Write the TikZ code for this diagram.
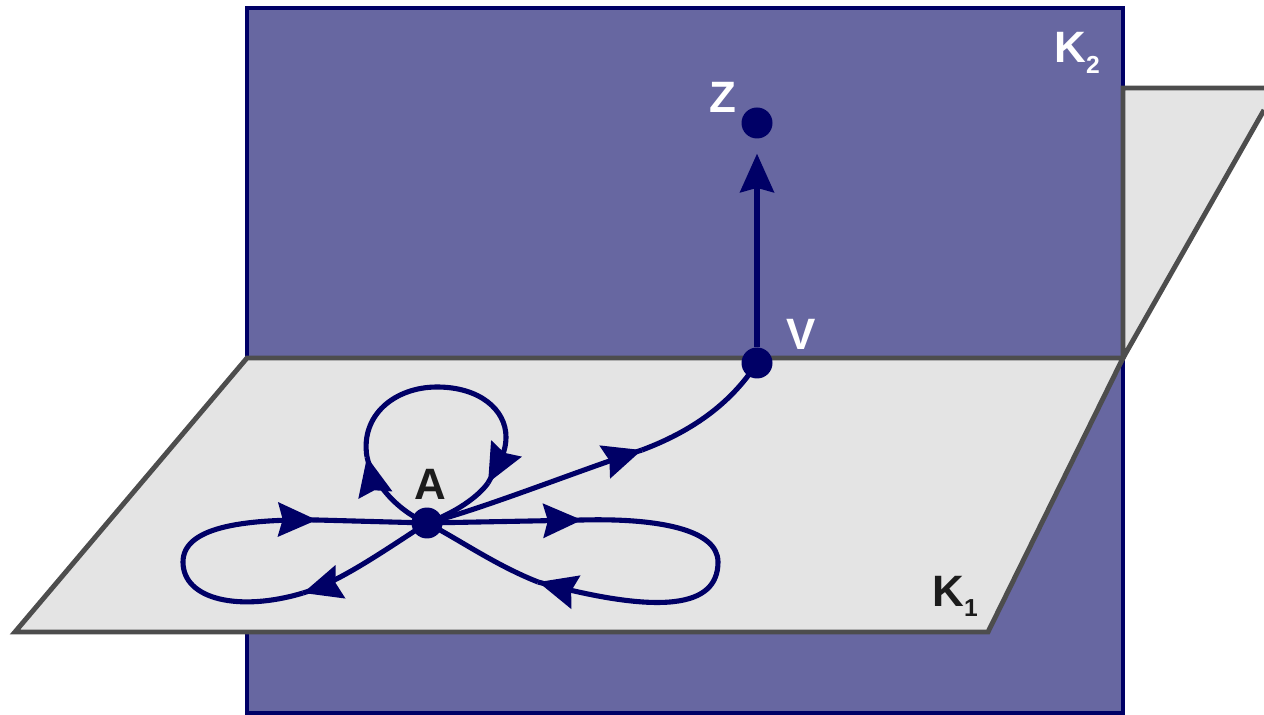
\documentclass[tikz,border=0pt]{standalone}
\usepackage{fontspec}
\setmainfont{Liberation Sans}
\usetikzlibrary{arrows.meta,decorations.markings}
\definecolor{PlaneBlue}{RGB}{103,103,161}
\definecolor{DeepNavy}{RGB}{0,0,102}
\definecolor{PlaneGray}{RGB}{228,228,228}
\definecolor{EdgeGray}{RGB}{77,77,77}
\definecolor{InkDark}{RGB}{28,28,28}
\newcommand{\lowidx}[1]{\raisebox{-6pt}{\fontsize{14}{14}\selectfont #1}}

\begin{document}
\begin{tikzpicture}[x=0.02cm,y=-0.02cm,font=\fontsize{25}{30}\selectfont\bfseries,
  >={Stealth[length=0.78cm,width=0.7cm,inset=0.1cm,line width=0pt]},
  flow/.style={DeepNavy,line width=2.9pt},
  tipend/.style={postaction={decorate},decoration={markings,mark=at position 0.999 with {\arrow{>}}}},
  edge/.style={EdgeGray,line width=2.8pt},
  dot/.style={circle,fill=DeepNavy,inner sep=0pt,minimum size=0.62cm}]
\useasboundingbox (0,0) rectangle (1264,715);
\filldraw[fill=PlaneBlue,draw=DeepNavy,line width=2.8pt] (247,8) rectangle (1123,713);
\fill[PlaneGray] (1123,88) -- (1264,88) -- (1264,110) -- (1123,358) -- cycle;
\draw[edge] (1264,88) -- (1123,88) -- (1123,358) -- (1264,110);
\filldraw[edge,fill=PlaneGray] (15,632) -- (247,358) -- (1123,358) -- (988,632) -- cycle;
\node[dot] (A) at (427,523){};
\node[dot] (V) at (757,363){};
\node[dot] (Z) at (757,123){};
\coordinate (loopL1) at (303,593);
\coordinate (loopL2) at (317,520);
\coordinate (loopT1) at (367,457);
\coordinate (loopT2) at (488,483);
\coordinate (loopR1) at (582,520);
\coordinate (loopR2) at (538,582);
\coordinate (midAV) at (642,450);
\draw[flow,tipend] (A.center) .. controls (385,550) and (340,582) .. (loopL1);
\draw[flow,tipend] (loopL1) .. controls (240,612) and (183,600) .. (183,562) .. controls (183,528) and (240,519) .. (loopL2);
\draw[flow] (loopL2) -- (A.center);
\draw[flow,tipend] (A.center) .. controls (395,510) and (372,480) .. (loopT1);
\draw[flow,tipend] (loopT1) .. controls (360,415) and (395,387) .. (437,387) .. controls (480,387) and (506,410) .. (506,437) .. controls (506,455) and (496,468) .. (loopT2);
\draw[flow] (loopT2) .. controls (478,497) and (455,513) .. (A.center);
\draw[flow,tipend] (A.center) -- (loopR1);
\draw[flow,tipend] (loopR1) .. controls (660,518) and (718,530) .. (718,562) .. controls (718,608) and (660,615) .. (loopR2);
\draw[flow] (loopR2) .. controls (495,565) and (460,540) .. (A.center);
\draw[flow,tipend] (A.center) .. controls (480,510) and (580,470) .. (midAV);
\draw[flow] (midAV) .. controls (690,432) and (730,405) .. (V.center);
\draw[flow,->,shorten >=0.3cm] (V) -- (Z);
\node[InkDark,anchor=base] (labA) at (430,500){A};
\node[white,anchor=base] (labV) at (801,350){V};
\node[white,anchor=base] (labZ) at (723,113){Z};
\node[white,anchor=base west,inner sep=0pt] (labK2) at (1054,63){K\lowidx{2}};
\node[InkDark,anchor=base west,inner sep=0pt] (labK1) at (932,606){K\lowidx{1}};
\end{tikzpicture}
\end{document}
